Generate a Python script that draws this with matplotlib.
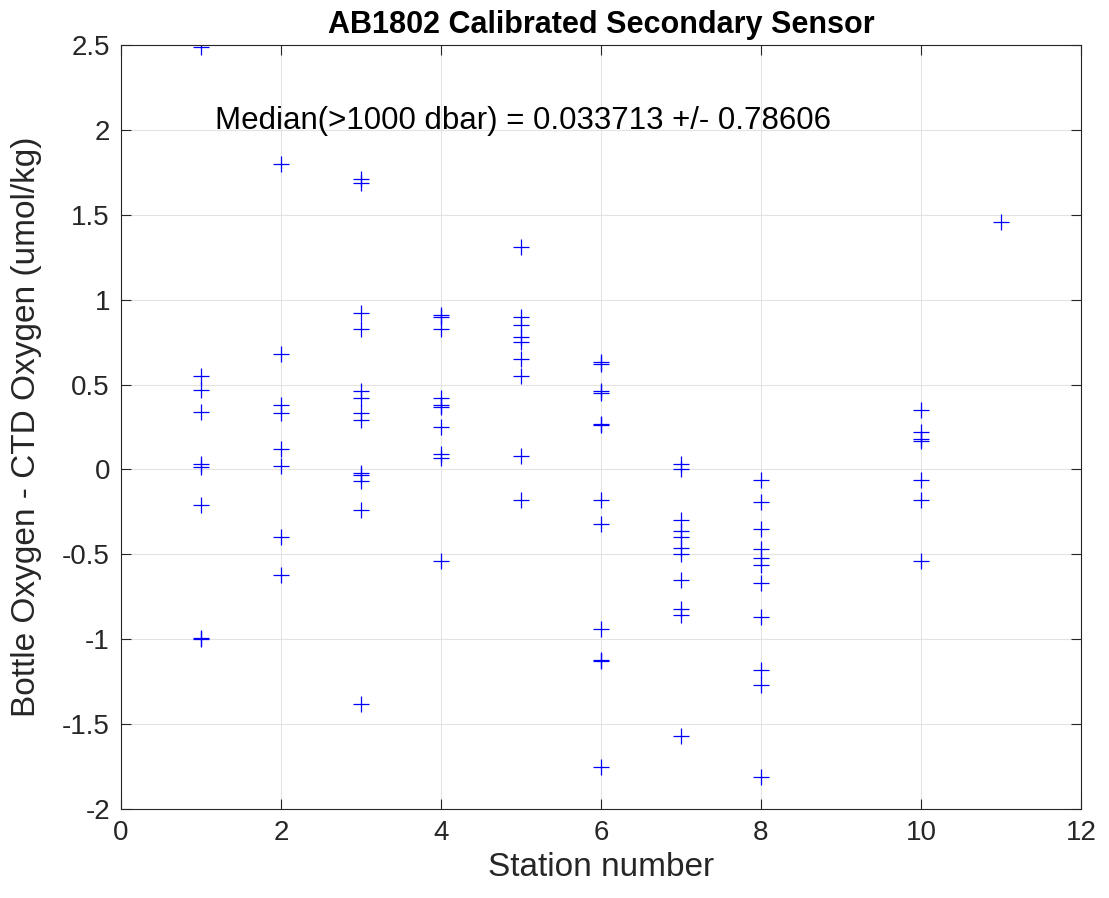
import matplotlib
matplotlib.use("Agg")
import matplotlib.pyplot as plt

plt.rcParams['font.family'] = ['Liberation Sans', 'DejaVu Sans']

st1 = [2.49, 0.55, 0.47, 0.34, 0.03, 0.015, -0.21, -0.99, -1.0]
st2 = [1.80, 0.68, 0.38, 0.33, 0.12, 0.02, -0.40, -0.62]
st3 = [1.71, 1.69, 0.92, 0.83, 0.46, 0.42, 0.33, 0.29, -0.02, -0.03, -0.07, -0.24, -1.38]
st4 = [0.91, 0.90, 0.83, 0.42, 0.38, 0.37, 0.25, 0.09, 0.07, -0.54]
st5 = [1.31, 0.90, 0.85, 0.78, 0.75, 0.65, 0.55, 0.08, -0.18]
st6 = [0.63, 0.62, 0.46, 0.45, 0.27, 0.26, -0.18, -0.32, -0.94, -1.12, -1.13, -1.75]
st7 = [0.03, 0.0, -0.30, -0.36, -0.40, -0.46, -0.50, -0.65, -0.82, -0.86, -1.57]
st8 = [-0.06, -0.19, -0.35, -0.47, -0.52, -0.56, -0.67, -0.87, -1.18, -1.27, -1.81]
st10 = [0.35, 0.22, 0.18, 0.17, -0.06, -0.18, -0.54]
st11 = [1.46]

stations = [1, 2, 3, 4, 5, 6, 7, 8, 10, 11]
values = [st1, st2, st3, st4, st5, st6, st7, st8, st10, st11]

xticks = [0, 2, 4, 6, 8, 10, 12]
yticks = [-2, -1.5, -1, -0.5, 0, 0.5, 1, 1.5, 2, 2.5]
ytick_labels = ['-2', '-1.5', '-1', '-0.5', '0', '0.5', '1', '1.5', '2', '2.5']

fig = plt.figure(figsize=(11.09, 8.98), dpi=100)
ax = fig.add_axes([121/1109, 1 - 809/898, 960/1109, 764/898])

xs, ys = [], []
for s, vals in zip(stations, values):
    for v in vals:
        xs.append(s)
        ys.append(v)
ax.plot(xs, ys, linestyle='none', marker='+', color='#0000ff',
        markersize=12, markeredgewidth=0.9)

ax.set_xlim(0, 12)
ax.set_ylim(-2, 2.5)
ax.set_xticks(xticks)
ax.set_yticks(yticks)
ax.set_yticklabels(ytick_labels)
ax.grid(True, color='#e3e3e3', linewidth=0.8)
ax.set_axisbelow(True)
ax.tick_params(direction='in', length=7, width=0.8, top=True, right=True,
               labelsize=20, colors='#262626', pad=8)
for sp in ax.spines.values():
    sp.set_color('#262626')
    sp.set_linewidth(0.8)

ax.set_xlabel('Station number', fontsize=24, color='#262626', labelpad=4)
ax.set_ylabel('Bottle Oxygen - CTD Oxygen (umol/kg)', fontsize=24, color='#262626')
ax.yaxis.set_label_coords(-0.082, 0.5)
ax.set_title('AB1802 Calibrated Secondary Sensor', fontsize=22, fontweight='bold', pad=9)
ax.text(1.175, 2.05, 'Median(>1000 dbar) = 0.033713 +/- 0.78606', fontsize=22.5,
        va='center', ha='left', color='black')

fig.savefig('out.png', dpi=100)
